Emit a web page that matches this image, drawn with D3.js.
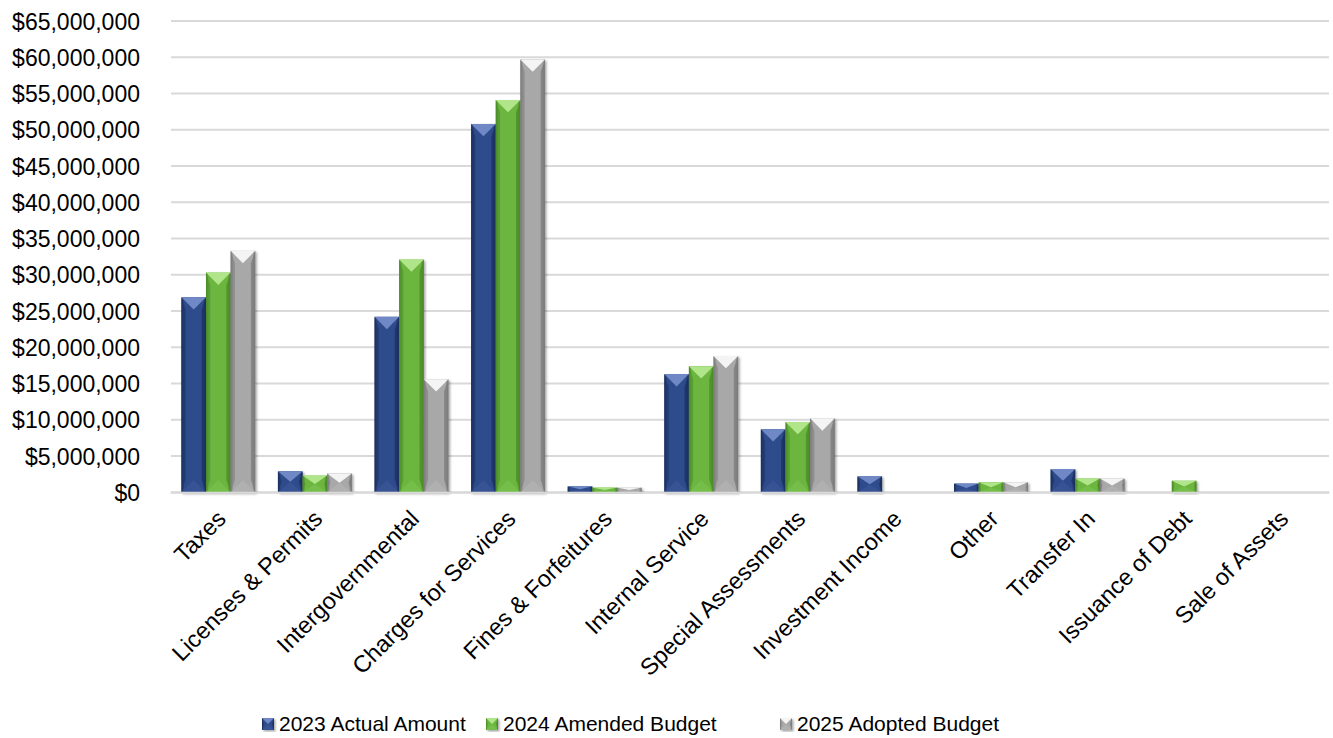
<!DOCTYPE html>
<html>
<head>
<meta charset="utf-8">
<script src="https://cdn.jsdelivr.net/npm/d3@7"></script>
<style>
  html, body { margin: 0; padding: 0; background: #ffffff; }
  svg { display: block; }
  text { font-family: "Liberation Sans", Arial, sans-serif; fill: #000; }
</style>
</head>
<body>
<svg id="chart" width="1333" height="738"></svg>
<script>
// Revenue by source, in dollars
const categories = [
  "Taxes", "Licenses & Permits", "Intergovernmental", "Charges for Services",
  "Fines & Forfeitures", "Internal Service", "Special Assessments",
  "Investment Income", "Other", "Transfer In", "Issuance of Debt", "Sale of Assets"
];
const seriesNames = ["2023 Actual Amount", "2024 Amended Budget", "2025 Adopted Budget"];
const actual2023   = [26900000, 2900000, 24200000, 50800000, 830000, 16300000, 8700000, 2200000, 1200000, 3200000, 0, 0];
const amended2024  = [30300000, 2300000, 32100000, 54100000, 650000, 17400000, 9700000, 0, 1400000, 1900000, 1600000, 0];
const adopted2025  = [33300000, 2600000, 15600000, 59700000, 650000, 18800000, 10200000, 0, 1400000, 1900000, 0, 0];
const yTicks = [0, 5e6, 10e6, 15e6, 20e6, 25e6, 30e6, 35e6, 40e6, 45e6, 50e6, 55e6, 60e6, 65e6];

const seriesValues = [actual2023, amended2024, adopted2025];

// bevel palette per series: body, edge, top face, bottom face
const palette = [
  { body: "#2f4b8b", edge: "#1c2f5e", top: "#6f89c6", bottom: "#3a5698" },
  { body: "#6cb641", edge: "#4a8a28", top: "#b1e58a", bottom: "#78c24c" },
  { body: "#a8a8a8", edge: "#7a7a7a", top: "#f4f4f4", bottom: "#b4b4b4" }
];

const svg = d3.select("#chart");
const plot = { left: 171, right: 1329, top: 21, bottom: 492.3 };

const y = d3.scaleLinear().domain([0, 65e6]).range([plot.bottom, plot.top]);
const x = d3.scaleBand().domain(categories).range([plot.left - 1, plot.right]).padding(0);
const groupWidth = x.bandwidth() * 0.765;
const xs = d3.scaleBand().domain(d3.range(3)).range([0, groupWidth]).padding(0);

const defs = svg.append("defs");
palette.forEach((p, i) => {
  const g = defs.append("linearGradient").attr("id", "body" + i)
    .attr("x1", "0%").attr("x2", "100%").attr("y1", "0%").attr("y2", "0%");
  g.append("stop").attr("offset", "0%").attr("stop-color", p.edge);
  g.append("stop").attr("offset", "12%").attr("stop-color", p.body);
  g.append("stop").attr("offset", "50%").attr("stop-color", p.body);
  g.append("stop").attr("offset", "88%").attr("stop-color", p.body);
  g.append("stop").attr("offset", "100%").attr("stop-color", p.edge);
});
const shadow = defs.append("filter").attr("id", "shadow")
  .attr("x", "-20%").attr("y", "-5%").attr("width", "150%").attr("height", "120%");
shadow.append("feDropShadow").attr("dx", 1.5).attr("dy", 1.5).attr("stdDeviation", 1.2)
  .attr("flood-color", "#000").attr("flood-opacity", 0.35);

// gridlines
const fmt = d => "$" + d3.format(",")(d);
svg.append("g").selectAll("line").data(yTicks).join("line")
  .attr("x1", plot.left).attr("x2", plot.right)
  .attr("y1", d => y(d)).attr("y2", d => y(d))
  .attr("stroke", "#d9d9d9").attr("stroke-width", 2);

// y axis labels
const yAxis = d3.axisLeft(y).tickValues(yTicks).tickFormat(fmt).tickSize(0).tickPadding(0);
const yg = svg.append("g").attr("transform", `translate(${140},0)`).call(yAxis);
yg.select(".domain").remove();
yg.selectAll("text").style("font-size", "23px").style("font-family", "'Liberation Sans', Arial, sans-serif")
  .attr("fill", "#000").attr("dy", "0.35em");

// bars
function bevelBar(g, bx, by, w, h, p, i) {
  if (h <= 0) return;
  const d = Math.min(w / 2, h / 2);
  const bar = g.append("g").attr("filter", "url(#shadow)");
  bar.append("rect").attr("x", bx).attr("y", by).attr("width", w).attr("height", h)
    .attr("fill", `url(#body${i})`);
  // side bevels
  bar.append("polygon")
    .attr("points", [[bx, by], [bx + d * 0.35, by + d], [bx + d * 0.35, by + h - d], [bx, by + h]].join(" "))
    .attr("fill", p.edge).attr("opacity", 0.55);
  bar.append("polygon")
    .attr("points", [[bx + w, by], [bx + w - d * 0.35, by + d], [bx + w - d * 0.35, by + h - d], [bx + w, by + h]].join(" "))
    .attr("fill", p.edge).attr("opacity", 0.75);
  // top face
  bar.append("polygon")
    .attr("points", [[bx, by], [bx + w, by], [bx + w / 2, by + d]].join(" "))
    .attr("fill", p.top);
  // bottom face
  bar.append("polygon")
    .attr("points", [[bx, by + h], [bx + w, by + h], [bx + w / 2, by + h - d]].join(" "))
    .attr("fill", p.bottom).attr("opacity", 0.7);
}

const barsG = svg.append("g");
categories.forEach((c, ci) => {
  const gx = x(c) + (x.bandwidth() - groupWidth) / 2;
  seriesValues.forEach((vals, si) => {
    const v = vals[ci];
    const bx = gx + xs(si);
    bevelBar(barsG, bx, y(v), xs.bandwidth(), y(0) - y(v), palette[si], si);
  });
});

// category labels
const xAxis = d3.axisBottom(x).tickSize(0).tickPadding(0);
const xg = svg.append("g").attr("transform", `translate(0,${plot.bottom})`).call(xAxis);
xg.select(".domain").attr("stroke", "#d9d9d9").attr("stroke-width", 2);
xg.selectAll("text")
  .style("font-size", "23.5px").style("font-family", "'Liberation Sans', Arial, sans-serif")
  .attr("fill", "#000")
  .attr("text-anchor", "end")
  .attr("dy", null).attr("y", 0)
  .attr("transform", "translate(9,28) rotate(-45)");

// legend
const legendItems = [
  { x: 262, name: seriesNames[0] },
  { x: 486, name: seriesNames[1] },
  { x: 780, name: seriesNames[2] }
];
const lg = svg.append("g");
legendItems.forEach((it, i) => {
  bevelBar(lg, it.x, 718, 12, 12, palette[i], i);
  lg.append("text").attr("x", it.x + 17).attr("y", 724).attr("dy", "0.35em")
    .style("font-size", "21px").text(it.name);
});
</script>
</body>
</html>
